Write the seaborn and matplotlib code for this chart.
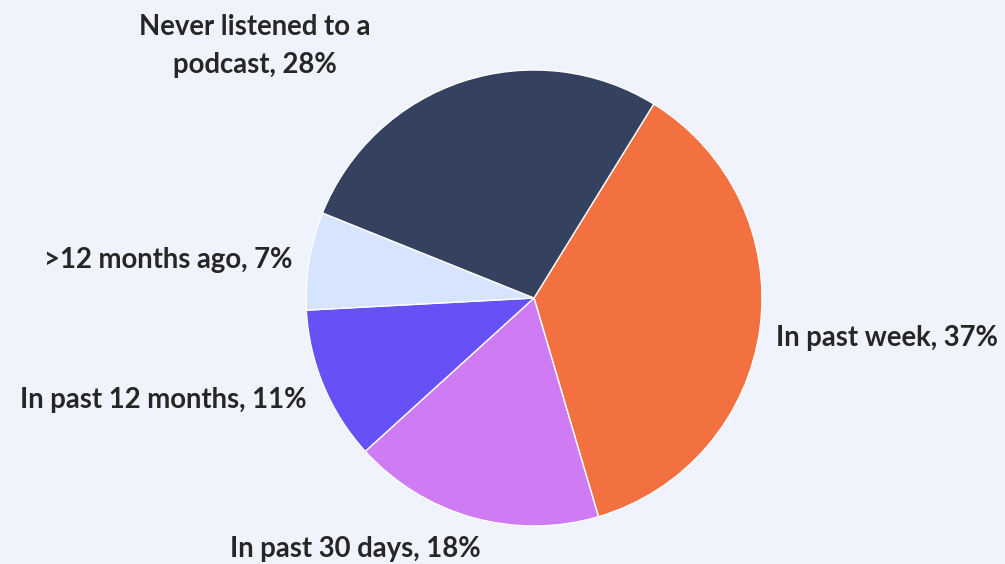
import matplotlib
matplotlib.use("Agg")
import matplotlib.pyplot as plt
import seaborn as sns

# Podcast listening recency
categories = ["In past week", "In past 30 days", "In past 12 months",
              ">12 months ago", "Never listened to a\npodcast"]
shares = [37, 18, 11, 7, 28]
colors = ["#F37041", "#CF7BF4", "#6551F5", "#D6E4FF", "#344260"]

sns.set_theme(style="white")
plt.rcParams["font.family"] = ["Lato", "DejaVu Sans"]

bg = "#F0F2FC"
fig = plt.figure(figsize=(10.05, 5.64), dpi=100, facecolor=bg)
ax = fig.add_axes([0, 0, 1, 1])
ax.set_facecolor(bg)

wedges, _ = ax.pie(shares, colors=colors, startangle=58.3, counterclock=False,
                   wedgeprops=dict(edgecolor="white", linewidth=1.0))

# pixel-scaled limits: pie radius of 228 px centred at (534, 298)
W, H, R, cx, cy = 1005, 564, 228, 534, 298
ax.set_xlim(-cx / R, (W - cx) / R)
ax.set_ylim(-(H - cy) / R, cy / R)
ax.set_aspect("auto")
ax.axis("off")

def px(x, y):
    return (x - cx) / R, (cy - y) / R

label_pos = [
    (px(776, 338), "left"),
    (px(355, 549), "center"),
    (px(306, 400), "right"),
    (px(292, 260), "right"),
    (px(255, 46), "center"),
]
for cat, val, (xy, ha) in zip(categories, shares, label_pos):
    ax.text(xy[0], xy[1], f"{cat}, {val}%", ha=ha, va="center",
            fontsize=19.8, fontweight="bold", color="#262626",
            linespacing=1.6, multialignment="center")

fig.savefig("out.png", dpi=100, facecolor=bg)
